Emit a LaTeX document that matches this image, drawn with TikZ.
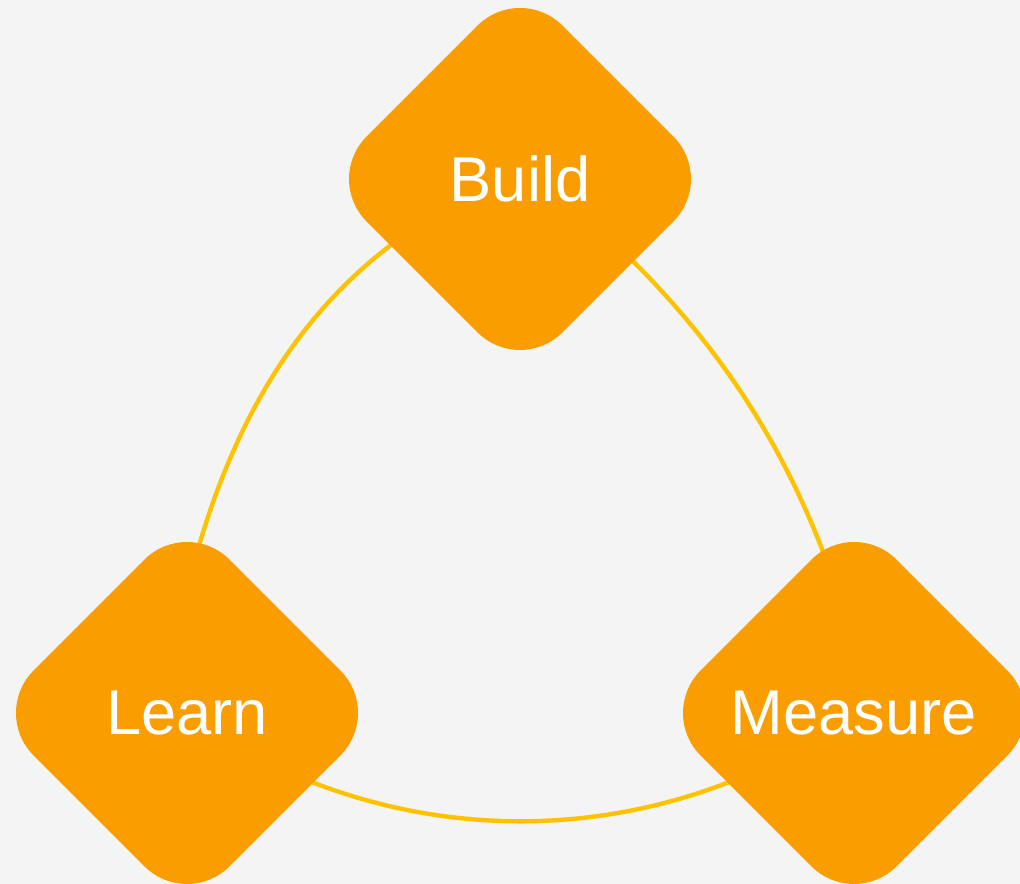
\documentclass[tikz,border=0pt]{standalone}
\usepackage{fontspec}
\setmainfont{Liberation Sans}
\usepackage{xcolor}
\usetikzlibrary{shapes,positioning,backgrounds}

\definecolor{bgcol}{RGB}{244,244,244}
\definecolor{stagecol}{RGB}{249,157,0}
\definecolor{loopcol}{RGB}{255,194,0}

\tikzset{
  stage/.style={diamond,aspect=1,fill=stagecol,text=white,inner sep=0pt,
    minimum width=7.84cm,minimum height=7.84cm,rounded corners=1.2cm,
    font=\fontsize{36}{40}\selectfont},
  cycle/.style={draw=loopcol,line width=2.5pt,looseness=0.85,
    shorten <=-0.4cm,shorten >=-0.4cm}
}

\begin{document}
\begin{tikzpicture}
\useasboundingbox (0,0) rectangle (20.4,17.68);

\node[stage] (build) at (10.4,14.1) {Build};
\node[stage] (learn) at (3.74,3.42) {Learn};
\node[stage] (measure) at (17.08,3.42) {Measure};

% loop behind the stages
\begin{scope}[on background layer]
\fill[bgcol] (0,0) rectangle (20.4,17.68);
\draw[cycle] (build.207) to[out=215,in=74] (learn.85);
\draw[cycle] (learn.-29) to[out=-23,in=203] (measure.209);
\draw[cycle] (measure.101) to[out=110,in=-44] (build.-36);
\end{scope}
\end{tikzpicture}
\end{document}
